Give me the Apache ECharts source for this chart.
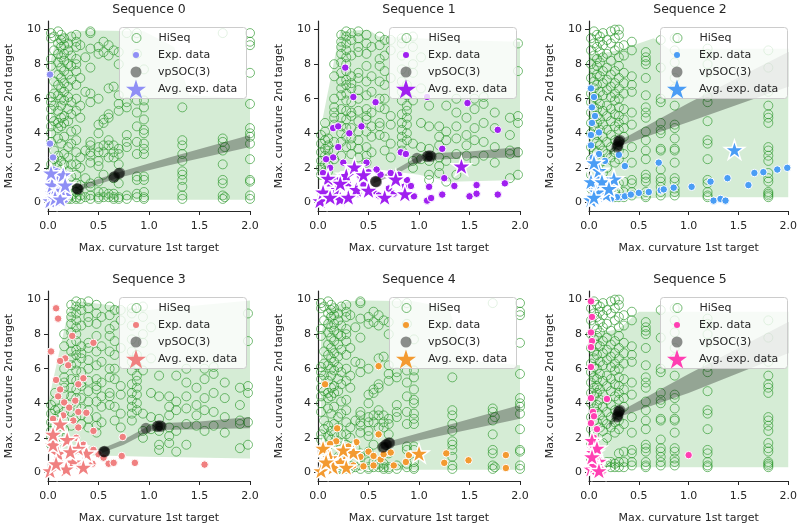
<!DOCTYPE html>
<html>
<head>
<meta charset="utf-8">
<script src="https://cdn.jsdelivr.net/npm/echarts@6/dist/echarts.min.js"></script>
<style>
html,body{margin:0;padding:0;background:#fff}
#main{width:800px;height:525px}
</style>
</head>
<body>
<div id="main"></div>
<script>
// titles, colours, ticks
var titles = ['Sequence 0', 'Sequence 1', 'Sequence 2', 'Sequence 3', 'Sequence 4', 'Sequence 5'];
var expColors = ['#8f8ff5', '#a020f0', '#4a9df5', '#f08080', '#f39a30', '#ff3fb2'];
var xTicks = [0, 0.5, 1, 1.5, 2];
var yTicks = [0, 2, 4, 6, 8, 10];

// HiSeq points, written as [x, [y values]] columns
var hiseqA = [
  [0.03, [9.8, 9.5, 8.3, 7.9, 6.1, 5.8, 5.4, 4.9, 4.4, 4.0, 3.5, 2.2, 1.9]],
  [0.06, [9.6, 8.8, 7.0, 6.3, 5.6, 4.7, 3.0, 2.5]],
  [0.1, [9.9, 9.2, 8.6, 8.1, 7.4, 6.8, 6.2, 5.3, 4.6, 4.3, 3.7, 2.7, 2.1]],
  [0.13, [9.7, 9.4, 9.0, 8.4, 7.8, 7.2, 6.6, 6.0, 5.6, 4.9, 4.4, 3.4, 2.4, 1.9]],
  [0.16, [9.5, 9.1, 8.6, 8.2, 7.6, 6.9, 6.4, 5.9, 5.0, 4.6, 3.8, 2.8, 2.2, 1.2, 0.5, 0.3]],
  [0.2, [9.2, 8.8, 8.0, 7.4, 6.7, 6.1, 5.4, 4.7, 3.2, 2.6, 1.8, 0.9, 0.3, 0.2]],
  [0.23, [9.6, 8.5, 7.9, 7.1, 5.8, 5.1, 4.1, 3.4, 2.2, 1.5, 0.4, 0.2]],
  [0.28, [9.7, 9.3, 9.0, 8.3, 8.0, 7.6, 6.8, 6.0, 5.3, 4.2, 3.6, 2.9, 2.2, 1.6, 1.1, 0.6, 0.3, 0.2]],
  [0.32, [9.1, 7.2, 5.6, 4.9, 2.6, 2.0, 1.0, 0.4, 0.2]],
  [0.37, [8.4, 6.4, 3.0, 1.4, 0.3]],
  [0.42, [9.9, 9.8, 8.9, 7.8, 6.3, 5.8, 3.5, 3.3, 2.9, 2.7, 2.3, 1.1, 0.9, 0.4, 0.2]],
  [0.5, [9.0, 8.6, 6.0, 4.5, 4.0, 3.2, 2.9, 2.4, 2.1, 1.2, 0.6, 0.3, 0.2]],
  [0.55, [9.3, 8.7, 4.8, 4.6, 3.3, 2.9, 1.6, 0.6, 0.3]],
  [0.6, [9.1, 8.5, 6.6, 5.1, 4.9, 3.6, 3.3, 2.6, 0.5, 0.3]],
  [0.65, [8.8, 6.7, 3.3, 2.9, 2.6, 1.4, 0.5, 0.3, 0.2]],
  [0.7, [8.7, 8.0, 6.2, 5.7, 5.3, 3.1, 2.8, 2.2, 1.1, 0.3, 0.2]],
  [0.78, [9.8, 5.8, 5.5, 3.9, 3.5, 3.2, 0.4, 0.2]],
  [0.88, [9.8, 8.6, 5.9, 5.2, 4.4, 3.5, 2.8, 1.5, 1.3, 0.5, 0.3]],
  [0.95, [7.7, 5.9, 5.5, 4.8, 4.2, 4.0, 3.4, 3.1, 2.8, 1.5, 1.3, 0.6, 0.3, 0.2]],
  [1.33, [5.5, 3.6, 3.3, 2.8, 2.4, 1.8, 1.6, 1.3, 0.9, 0.4, 0.2]],
  [1.73, [9.8, 3.7, 3.5, 3.0, 2.2, 1.3, 1.1, 0.4, 0.2]],
  [1.75, [3.2, 0.3]],
  [2.0, [9.8, 9.3, 9.1, 7.5, 5.7, 4.3, 4.0, 3.8, 3.4, 2.5, 1.3, 1.2, 0.4, 0.2]]
];
var hiseqB = [
  [0.03, [3.9, 3.4, 2.9, 2.4, 2.0, 1.6]],
  [0.07, [4.6, 4.1, 3.6, 3.1, 2.7, 2.2, 1.8]],
  [0.1, [3.7, 3.3, 3.0, 2.6, 2.2, 1.8]],
  [0.16, [8.0, 7.3, 6.0, 5.5, 5.2, 4.9, 4.5, 3.5, 3.0, 2.5]],
  [0.23, [9.7, 9.3, 9.0, 8.6, 8.1, 7.5, 7.0, 6.6, 6.2, 5.4, 4.9, 4.4, 4.0, 3.5, 2.7]],
  [0.28, [9.9, 9.6, 9.2, 8.8, 8.4, 8.0, 7.6, 7.1, 6.8, 6.3, 5.9, 5.3, 4.8, 4.3, 3.8, 3.2]],
  [0.33, [9.8, 9.4, 8.5, 7.3, 6.9, 6.6, 5.8, 5.2, 5.0, 4.3, 3.7, 3.3, 2.8]],
  [0.4, [9.9, 9.5, 9.0, 8.7, 7.5, 7.2, 6.5, 6.0, 5.3, 4.7, 4.1, 3.6, 3.1, 2.6]],
  [0.48, [9.7, 9.2, 8.6, 7.9, 7.0, 6.2, 5.4, 5.0, 4.8, 4.1, 3.2, 2.7, 2.3]],
  [0.53, [9.0, 7.3, 6.4, 5.2, 4.4, 3.8, 2.9]],
  [0.61, [9.6, 9.1, 8.3, 7.9, 7.0, 6.0, 5.5, 4.6, 4.4, 3.9]],
  [0.66, [9.4, 8.5, 7.6, 6.8, 6.0, 5.4, 3.8, 3.0]],
  [0.72, [9.4, 8.8, 7.2, 5.0, 4.5, 3.4, 2.6]],
  [0.83, [9.5, 9.2, 8.5, 7.7, 7.0, 6.4, 5.9, 5.1, 4.6, 4.2, 3.8, 3.4, 3.0]],
  [0.88, [6.8, 6.2, 5.6, 5.3, 4.9, 4.5, 4.0, 3.6]],
  [0.94, [9.6, 9.0, 8.0, 7.5, 5.9, 3.4, 2.4, 2.0]],
  [1.02, [8.4, 6.6, 4.6, 3.2, 2.5]],
  [1.1, [5.6, 4.4, 3.1, 2.4, 1.6, 1.3]],
  [1.2, [4.4, 3.8, 3.3, 2.6, 2.1, 1.7]],
  [1.27, [5.6, 4.1, 3.6, 2.4, 1.2]],
  [1.37, [6.0, 5.2, 4.4, 3.7, 2.8, 1.6]],
  [1.47, [4.9, 3.9, 3.3, 2.7]],
  [1.55, [6.0, 5.4, 4.3, 3.6, 2.4]],
  [1.64, [6.1, 5.7, 4.6, 3.5, 2.7]],
  [1.75, [5.2, 4.3, 3.2, 2.3]],
  [1.9, [4.9, 3.9, 3.0, 2.8, 1.4]],
  [1.98, [9.2, 7.6, 5.0, 4.6, 2.9, 1.6]]
];
var hiseqC = [
  [0.02, [9.5, 8.8, 8.0, 7.2, 6.3, 5.8, 5.2, 4.6, 4.0, 3.2, 2.5, 1.6, 0.8]],
  [0.05, [9.9, 9.2, 8.5, 7.7, 7.0, 6.6, 6.1, 5.5, 4.9, 4.4, 3.7, 3.0, 2.2]],
  [0.08, [9.7, 9.0, 8.3, 7.9, 7.4, 6.8, 6.0, 5.4, 5.0, 4.6, 3.9, 3.5, 2.9]],
  [0.11, [9.6, 9.3, 8.7, 8.1, 7.3, 6.4, 5.7, 4.8, 4.2, 3.3, 2.6]],
  [0.14, [9.8, 9.1, 8.4, 7.6, 6.9, 6.2, 5.3, 4.5, 3.8, 3.0, 2.4, 1.7]],
  [0.18, [9.4, 8.6, 7.8, 7.1, 6.5, 5.6, 5.0, 4.2, 3.5, 2.8, 2.0, 0.6, 0.4]],
  [0.22, [9.9, 9.2, 8.2, 7.4, 6.7, 6.1, 5.4, 4.7, 3.9, 3.2, 2.6, 0.6, 0.3]],
  [0.26, [10.0, 9.5, 8.8, 7.6, 6.9, 6.3, 5.9, 5.1, 4.4, 3.6, 2.9, 2.3, 0.5, 0.3]],
  [0.3, [10.0, 9.7, 9.0, 8.4, 7.9, 7.2, 6.6, 6.0, 5.5, 5.0, 4.6, 4.2, 3.0, 2.5, 1.1, 0.6, 0.3]],
  [0.35, [9.1, 8.5, 7.5, 6.9, 6.3, 5.4, 4.8, 4.3, 3.8, 2.8, 1.2, 0.6, 0.3]],
  [0.43, [9.3, 8.8, 7.3, 6.8, 6.4, 5.2, 4.5, 3.2, 2.3, 1.3, 1.1, 0.6, 0.4]],
  [0.57, [8.7, 8.4, 8.2, 8.0, 7.2, 6.2, 5.5, 5.2, 4.9, 4.1, 3.6, 3.0, 2.5, 1.6, 1.4, 1.2, 0.6, 0.4, 0.3]],
  [0.72, [9.4, 7.8, 6.0, 5.8, 4.6, 4.2, 4.0, 3.1, 3.0, 1.9, 1.4, 1.2, 0.9, 0.6, 0.4]],
  [0.86, [9.5, 8.8, 8.1, 7.2, 6.6, 5.6, 4.5, 4.3, 3.7, 3.1, 3.0, 2.3, 1.4, 1.2, 0.8, 0.6, 0.4]],
  [1.19, [8.9, 8.6, 8.0, 7.5, 6.1, 5.8, 4.7, 3.6, 3.4, 2.5, 1.3, 1.1, 0.6, 0.4, 0.3]],
  [1.8, [8.8, 7.8, 6.4, 5.6, 5.1, 4.9, 4.6, 3.2, 3.0, 2.7, 2.4, 1.7, 1.4, 1.2, 0.6, 0.5, 0.4, 0.3]]
];
var hiseqPerPanel = [hiseqA, hiseqB, hiseqC, hiseqB, hiseqA, hiseqC];

// light green HiSeq band: x, lower, upper
var fill0X = [0.03, 0.1, 0.3, 0.45, 0.95, 1.25, 1.4, 2.0];
var fill0Lo = [1.2, 0.4, 0.15, 0.15, 0.15, 0.15, 0.15, 0.15];
var fill0Hi = [8.3, 9.7, 9.9, 9.95, 9.9, 9.0, 6.2, 6.0];
var fill1X = [0.0, 0.17, 0.22, 0.5, 0.6, 1.0, 1.3, 2.0];
var fill1Lo = [1.3, 1.5, 1.8, 2.0, 1.9, 1.6, 1.2, 1.3];
var fill1Hi = [3.5, 8.5, 9.9, 10.0, 9.6, 9.5, 9.4, 9.3];
var fill2X = [0.0, 0.3, 0.65, 0.8, 2.0];
var fill2Lo = [0.15, 0.2, 0.25, 0.3, 0.3];
var fill2Hi = [8.5, 8.8, 9.5, 8.9, 8.9];
var fill3X = [0.0, 0.2, 0.3, 1.0, 2.0];
var fill3Lo = [1.3, 1.1, 1.0, 0.9, 0.8];
var fill3Hi = [4.0, 9.3, 9.9, 9.4, 9.95];
var fill4X = [0.03, 0.1, 0.3, 0.45, 0.95, 1.3, 1.45, 2.0];
var fill4Lo = [1.0, 0.3, 0.15, 0.15, 0.15, 0.15, 0.15, 0.15];
var fill4Hi = [8.0, 9.5, 9.9, 9.95, 9.9, 9.5, 6.5, 6.2];
var fill5X = [0.02, 0.3, 0.5, 2.0];
var fill5Lo = [0.3, 0.3, 0.3, 0.3];
var fill5Hi = [8.0, 8.3, 9.3, 9.3];

// grey vpSOC regression band: x, lower, upper
var reg0X = [0.27, 0.7, 1.2, 2.0];
var reg0Lo = [0.62, 1.42, 2.15, 3.2];
var reg0Hi = [0.92, 1.75, 2.6, 3.9];
var reg1X = [0.55, 0.75, 1.0, 1.1, 1.5, 2.0];
var reg1Lo = [1.1, 1.55, 2.35, 2.45, 2.55, 2.6];
var reg1Hi = [1.35, 1.85, 2.7, 2.85, 2.95, 3.2];
var reg2X = [0.2, 0.3, 1.0, 2.0];
var reg2Lo = [2.7, 3.25, 4.65, 6.7];
var reg2Hi = [3.0, 3.55, 5.75, 8.7];
var reg3X = [0.5, 0.75, 1.0, 1.1, 1.5, 2.0];
var reg3Lo = [1.05, 1.6, 2.35, 2.45, 2.5, 2.55];
var reg3Hi = [1.3, 1.9, 2.7, 2.85, 2.95, 3.2];
var reg4X = [0.62, 1.2, 2.0];
var reg4Lo = [1.35, 2.1, 3.1];
var reg4Hi = [1.65, 2.6, 3.9];
var reg5X = [0.2, 0.3, 1.0, 2.0];
var reg5Lo = [2.6, 3.2, 4.6, 6.9];
var reg5Hi = [2.9, 3.5, 5.7, 8.7];

// vpSOC(3) points
var vp0 = [[0.29, 0.78], [0.29, 0.8], [0.3, 0.76], [0.65, 1.45], [0.66, 1.5], [0.7, 1.67], [0.71, 1.7]];
var vp1 = [[0.57, 1.2], [0.57, 1.22], [0.58, 1.18], [0.98, 2.55], [1.08, 2.65], [1.09, 2.68], [1.12, 2.66], [1.11, 2.7]];
var vp2 = [[0.28, 3.2], [0.29, 3.35], [0.3, 3.5], [0.31, 3.6], [0.29, 3.25], [0.3, 3.55]];
var vp3 = [[0.55, 1.2], [0.56, 1.22], [0.56, 1.18], [0.97, 2.55], [1.08, 2.65], [1.09, 2.68], [1.12, 2.66], [1.11, 2.7]];
var vp4 = [[0.64, 1.45], [0.65, 1.48], [0.67, 1.6], [0.68, 1.62], [0.7, 1.72], [0.71, 1.7]];
var vp5 = [[0.28, 3.2], [0.29, 3.35], [0.3, 3.5], [0.31, 3.6], [0.29, 3.25], [0.3, 3.55]];

// Exp. data points
var exp0 = [[0.02, 7.4], [0.02, 3.4], [0.05, 2.6], [0.18, 1.6], [0.02, 1.6], [0.05, 1.9], [0.08, 1.4], [0.12, 1.1],
  [0.15, 0.8], [0.1, 0.5], [0.05, 0.3], [0.02, 0.9], [0.07, 0.7], [0.13, 1.5], [0.03, 1.2], [0.16, 1.25],
  [0.09, 1.8], [0.04, 0.5], [0.11, 0.2], [0.14, 0.45], [0.19, 0.9], [0.06, 1.05], [0.2, 0.4], [0.08, 0.1],
  [0.17, 0.15], [0.1, 1.6], [0.01, 0.4]];
var exp1 = [[0.27, 7.8], [0.35, 6.1], [0.57, 5.8], [1.08, 6.1], [1.48, 5.75], [0.15, 4.3], [0.2, 4.4], [0.43, 4.4],
  [0.31, 4.0], [0.2, 3.2], [0.15, 2.6], [0.08, 2.5], [0.82, 2.9], [0.87, 2.8], [1.23, 3.1], [1.78, 4.2],
  [1.1, 0.9], [1.08, 0.1], [1.12, 0.25], [1.23, 0.45], [1.35, 0.95], [1.5, 0.35], [1.57, 0.5], [1.57, 1.0],
  [1.78, 0.45], [1.85, 1.1], [0.92, 0.95], [1.25, 1.4], [0.88, 1.3], [0.05, 1.7], [0.12, 2.0], [0.18, 1.3],
  [0.25, 2.3], [0.35, 1.9], [0.42, 1.5], [0.5, 1.75], [0.55, 0.6], [0.62, 1.6], [0.7, 0.8], [0.72, 1.7],
  [0.85, 0.9], [0.48, 2.3], [0.58, 1.9], [0.3, 1.0], [0.45, 1.0], [0.6, 0.4], [0.75, 0.5], [0.8, 1.6],
  [0.95, 0.35], [0.25, 0.15], [0.12, 0.9], [0.18, 0.4], [0.4, 0.5]];
var exp2 = [[0.02, 6.6], [0.05, 6.1], [0.03, 5.5], [0.06, 5.0], [0.1, 4.05], [0.02, 3.9], [0.1, 2.8], [0.3, 2.75],
  [0.36, 2.1], [0.7, 2.3], [0.32, 0.3], [0.36, 0.35], [0.42, 0.45], [0.5, 0.55], [0.6, 0.6], [0.72, 0.7],
  [0.75, 0.75], [0.85, 0.85], [1.03, 0.9], [1.22, 1.2], [1.25, 0.1], [1.32, 0.2], [1.37, 0.1], [1.39, 1.4],
  [1.6, 1.0], [1.66, 1.7], [1.75, 1.75], [1.89, 1.9], [1.99, 2.0], [0.02, 3.3], [0.04, 2.6], [0.07, 2.2],
  [0.12, 1.6], [0.16, 2.4], [0.2, 1.1], [0.25, 0.9], [0.28, 0.3], [0.22, 0.2], [0.15, 0.9], [0.05, 0.9],
  [0.08, 1.4], [0.03, 4.6]];
var exp3 = [[0.08, 9.5], [0.1, 8.9], [0.24, 7.9], [0.03, 7.0], [0.45, 7.5], [0.17, 6.6], [0.12, 6.45], [0.2, 6.2],
  [0.08, 5.35], [0.35, 5.45], [0.3, 5.1], [0.12, 4.8], [0.1, 4.4], [0.27, 4.15], [0.16, 4.05], [0.21, 3.75],
  [0.38, 3.45], [0.3, 3.5], [0.45, 2.4], [0.3, 2.6], [0.74, 2.05], [0.73, 0.95], [0.86, 0.55], [1.55, 0.45],
  [0.5, 1.05], [0.6, 0.5], [0.55, 0.85], [0.44, 0.5], [0.05, 3.1], [0.15, 3.3], [0.25, 3.0], [0.05, 2.3],
  [0.28, 2.0], [0.35, 1.6], [0.1, 0.4], [0.2, 0.3], [0.32, 0.4], [0.45, 1.3], [0.65, 0.55]];
var exp4 = [[0.07, 5.1], [0.6, 6.15], [0.6, 2.2], [0.19, 2.55], [0.18, 1.8], [0.05, 1.5], [0.38, 1.75], [0.9, 1.0],
  [0.87, 0.6], [1.27, 1.1], [1.25, 0.55], [1.49, 0.7], [1.86, 1.0], [1.86, 0.25], [0.75, 0.4], [0.55, 0.4],
  [0.45, 0.35], [0.62, 0.75], [0.5, 1.2], [0.65, 1.05], [0.35, 0.4], [0.42, 0.9], [0.28, 0.8], [0.1, 1.2],
  [0.15, 0.3], [0.3, 1.5], [0.72, 1.15], [0.55, 0.95], [0.05, 0.6], [0.22, 1.3], [0.12, 1.65]];
var exp5 = [[0.02, 9.9], [0.03, 9.0], [0.02, 8.1], [0.03, 7.6], [0.02, 7.25], [0.02, 6.1], [0.18, 4.25], [0.04, 3.5],
  [0.05, 3.25], [0.02, 2.85], [0.08, 2.5], [1.0, 1.0], [0.14, 0.1], [0.02, 4.3], [0.05, 2.0], [0.09, 1.3],
  [0.12, 0.5], [0.03, 1.5], [0.06, 0.3], [0.1, 0.9]];

// Avg. exp. data (stars)
var avg0 = [[0.02, 0.1], [0.05, 0.55], [0.08, 0.9], [0.1, 1.3], [0.04, 1.0], [0.13, 0.7], [0.07, 0.25],
  [0.15, 1.6], [0.12, 0.2], [0.03, 1.7], [0.17, 1.0]];
var avg1 = [[0.28, 1.55], [0.36, 2.05], [0.18, 0.75], [0.38, 0.75], [0.66, 0.3], [0.77, 1.35], [0.86, 0.5],
  [1.42, 2.1], [0.02, 0.1], [0.1, 1.4], [0.05, 0.6], [0.22, 0.2], [0.45, 1.6], [0.3, 0.3], [0.12, 0.3],
  [0.5, 0.7], [0.22, 1.1]];
var avg2 = [[1.46, 3.05], [0.25, 1.35], [0.1, 1.85], [0.02, 1.2], [0.17, 0.45], [0.02, 0.15], [0.08, 0.6],
  [0.05, 0.3], [0.13, 1.2], [0.2, 0.8], [0.05, 2.3]];
var avg3 = [[0.12, 2.8], [0.19, 1.9], [0.38, 1.1], [0.1, 1.1], [0.02, 0.1], [0.25, 0.6], [0.05, 1.6],
  [0.18, 0.2], [0.3, 1.4], [0.08, 0.5], [0.22, 1.2], [0.35, 0.3], [0.05, 2.2]];
var avg4 = [[1.0, 1.1], [0.35, 1.15], [0.22, 0.6], [0.03, 0.1], [0.12, 0.85], [0.05, 1.4],
  [0.15, 0.3], [0.28, 0.3], [0.25, 1.3], [0.08, 0.6]];
var avg5 = [[0.03, 1.85], [0.1, 0.65], [0.02, 0.2], [0.05, 1.15], [0.06, 0.4], [0.08, 1.4], [0.03, 0.9], [0.1, 0.1]];

var fills = [[fill0X, fill0Lo, fill0Hi], [fill1X, fill1Lo, fill1Hi], [fill2X, fill2Lo, fill2Hi],
             [fill3X, fill3Lo, fill3Hi], [fill4X, fill4Lo, fill4Hi], [fill5X, fill5Lo, fill5Hi]];
var regs = [[reg0X, reg0Lo, reg0Hi], [reg1X, reg1Lo, reg1Hi], [reg2X, reg2Lo, reg2Hi],
            [reg3X, reg3Lo, reg3Hi], [reg4X, reg4Lo, reg4Hi], [reg5X, reg5Lo, reg5Hi]];
var vps = [vp0, vp1, vp2, vp3, vp4, vp5];
var exps = [exp0, exp1, exp2, exp3, exp4, exp5];
var avgs = [avg0, avg1, avg2, avg3, avg4, avg5];

var FONT = 'DejaVu Sans';
var INK = '#262626';
var GREEN = 'rgba(40,150,40,0.8)';
var STAR = 'path://M50,0L61.23,34.55L97.55,34.55L68.17,55.9L79.39,90.45L50,69.1L20.61,90.45L31.83,55.9L2.45,34.55L38.77,34.55Z';

var colLeft = [48, 318, 589];
var rowTop = [21, 291];
var gw = 202, gh = 190;

function columnsToPoints(cols) {
  var pts = [];
  cols.forEach(function (c) {
    c[1].forEach(function (y) { pts.push([c[0], y]); });
  });
  return pts;
}

function bandSeries(band, idx, color, z) {
  var xs = band[0], lo = band[1], hi = band[2];
  return {
    type: 'custom', xAxisIndex: idx, yAxisIndex: idx, z: z, silent: true, clip: true,
    encode: {x: 0, y: [1, 2]},
    data: xs.map(function (x, i) { return [x, lo[i], hi[i]]; }),
    renderItem: function (params, api) {
      if (params.dataIndex !== 0) return;
      var pts = [];
      for (var i = 0; i < xs.length; i++) pts.push(api.coord([xs[i], hi[i]]));
      for (var j = xs.length - 1; j >= 0; j--) pts.push(api.coord([xs[j], lo[j]]));
      return {type: 'polygon', shape: {points: pts}, style: {fill: color}};
    }
  };
}

var grids = [], xAxes = [], yAxes = [], series = [], title = [], legends = [], graphics = [];

for (var i = 0; i < 6; i++) {
  var gl = colLeft[i % 3], gt = rowTop[Math.floor(i / 3)];
  var col = expColors[i];
  grids.push({left: gl, top: gt, width: gw, height: gh});
  title.push({
    text: titles[i], left: gl + gw / 2, top: gt - 18, textAlign: 'center', padding: 0,
    textStyle: {fontSize: 12.5, fontWeight: 'normal', color: INK, fontFamily: FONT}
  });
  xAxes.push({
    type: 'value', gridIndex: i, min: 0, max: 2, interval: 0.5,
    name: 'Max. curvature 1st target', nameLocation: 'middle', nameGap: 32,
    nameTextStyle: {fontSize: 11, color: INK, fontFamily: FONT},
    axisLine: {onZero: false, lineStyle: {color: INK, width: 1.2}},
    axisTick: {length: 4, lineStyle: {color: INK, width: 1}},
    axisLabel: {fontSize: 11, color: INK, fontFamily: FONT, margin: 10,
      formatter: function (v) { return v.toFixed(1); }},
    splitLine: {show: false}
  });
  yAxes.push({
    type: 'value', gridIndex: i, min: -0.5, max: 10.5,
    name: 'Max. curvature 2nd target', nameLocation: 'middle', nameGap: 33,
    nameTextStyle: {fontSize: 11, color: INK, fontFamily: FONT},
    axisLine: {onZero: false, lineStyle: {color: INK, width: 1.2}},
    axisTick: {length: 4, customValues: yTicks, lineStyle: {color: INK, width: 1}},
    axisLabel: {fontSize: 11, color: INK, fontFamily: FONT, margin: 7, customValues: yTicks},
    splitLine: {show: false}
  });

  series.push(bandSeries(fills[i], i, 'rgba(44,160,44,0.2)', 1));
  series.push({
    name: 'HiSeq', type: 'scatter', xAxisIndex: i, yAxisIndex: i, z: 2,
    symbol: 'circle', symbolSize: 9,
    itemStyle: {color: 'rgba(0,0,0,0)', borderColor: GREEN, borderWidth: 1},
    data: columnsToPoints(hiseqPerPanel[i])
  });
  series.push(bandSeries(regs[i], i, 'rgba(0,0,0,0.3)', 3));
  series.push({
    name: 'Exp. data', type: 'scatter', xAxisIndex: i, yAxisIndex: i, z: 4,
    symbol: 'circle', symbolSize: 7.5,
    itemStyle: {color: col, borderColor: '#fff', borderWidth: 1, opacity: 1},
    data: exps[i]
  });
  series.push({
    name: 'Avg. exp. data', type: 'scatter', xAxisIndex: i, yAxisIndex: i, z: 5,
    symbol: STAR, symbolKeepAspect: true, symbolSize: 20,
    itemStyle: {color: col, borderColor: '#fff', borderWidth: 1.5, opacity: 1},
    data: avgs[i]
  });
  series.push({
    name: 'vpSOC(3)', type: 'scatter', xAxisIndex: i, yAxisIndex: i, z: 6,
    symbol: 'circle', symbolSize: 11,
    itemStyle: {color: 'rgba(0,0,0,0.55)', borderWidth: 0},
    data: vps[i]
  });

  // legend frame
  graphics.push({
    type: 'rect', left: gl + 71, top: gt + 6, z: 8,
    shape: {width: 127, height: 71, r: 3},
    style: {fill: 'rgba(255,255,255,0.8)', stroke: '#cccccc', lineWidth: 1}
  });
  var items = [
    {name: 'HiSeq', h: 9, w: 9, icon: 'circle', style: {color: 'rgba(0,0,0,0)', borderColor: GREEN, borderWidth: 1}, cy: 17},
    {name: 'Exp. data', h: 6, w: 6, icon: 'circle', style: {color: col, borderWidth: 0}, cy: 34},
    {name: 'vpSOC(3)', h: 11, w: 11, icon: 'circle', style: {color: 'rgba(0,0,0,0.55)', borderWidth: 0}, cy: 51},
    {name: 'Avg. exp. data', h: 19, w: 20, icon: STAR, style: {color: col, borderWidth: 0}, cy: 68}
  ];
  items.forEach(function (it) {
    // the legend box starts at the drawn icon, so place by the icon's real edges
    legends.push({
      left: gl + 88 - it.w / 2, top: gt + it.cy - Math.max(it.h, 13) / 2, padding: 0, itemGap: 0,
      itemWidth: 34, itemHeight: it.h, selectedMode: false, z: 10,
      textStyle: {fontSize: 11, color: INK, fontFamily: FONT, lineHeight: 13},
      data: [{name: it.name, icon: it.icon, itemStyle: it.style}]
    });
  });
}

var chart = echarts.init(document.getElementById('main'), null, {renderer: 'canvas'});
chart.setOption({
  backgroundColor: '#ffffff',
  animation: false,
  textStyle: {fontFamily: FONT},
  title: title,
  grid: grids,
  xAxis: xAxes,
  yAxis: yAxes,
  legend: legends,
  graphic: graphics,
  series: series
});
</script>
</body>
</html>
